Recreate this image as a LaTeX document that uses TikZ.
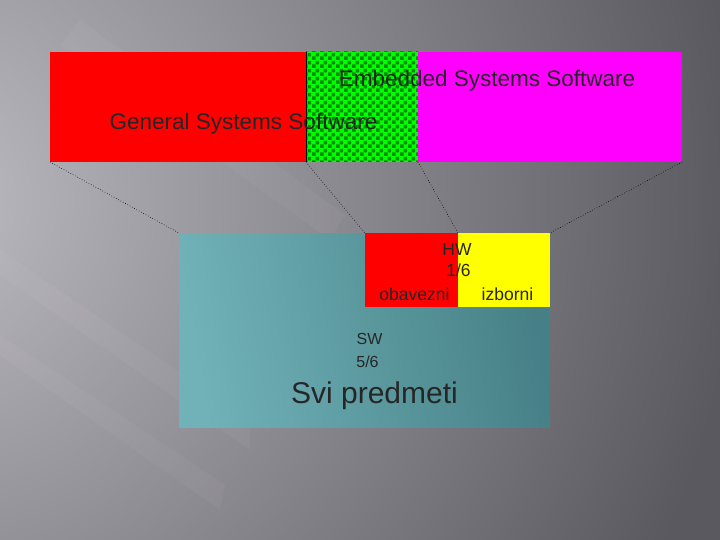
\documentclass[tikz,border=0pt]{standalone}
\usepackage{fontspec}
\setmainfont{Liberation Sans}
\usetikzlibrary{patterns.meta}
\definecolor{bgl}{RGB}{190,188,195}
\definecolor{bgd}{RGB}{90,89,95}
\definecolor{tealL}{RGB}{112,178,184}
\definecolor{tealD}{RGB}{70,128,134}
\definecolor{myred}{RGB}{255,0,0}
\definecolor{mygreen}{RGB}{0,255,0}
\definecolor{mymag}{RGB}{255,0,255}
\definecolor{myyel}{RGB}{255,255,0}
\tikzdeclarepattern{
  name=greencheck, type=uncolored,
  bounding box={(0pt,0pt) and (8pt,8pt)},
  tile size={(8pt,8pt)},
  code={
    \fill (0pt,0pt) rectangle (4pt,4pt);
    \fill (4pt,4pt) rectangle (8pt,8pt);
  }
}
\tikzset{
  blk/.style={draw=none, inner sep=0pt, outer sep=0pt, anchor=north west},
  link/.style={draw=black, dotted, line width=0.6pt},
  streak/.style={white, opacity=0.035},
  lbl/.style={font=\fontsize{22.5}{24}\selectfont, text=black!85, inner sep=0pt, anchor=base},
  sml/.style={font=\fontsize{17.5}{19}\selectfont, text=black!85, inner sep=0pt, anchor=base},
  swl/.style={font=\fontsize{16}{18}\selectfont, text=black!85, inner sep=0pt, anchor=base},
}
\begin{document}
\begin{tikzpicture}[x=1pt,y=-1pt]
\useasboundingbox (0,0) rectangle (720,540);
\begin{scope}
\clip (0,0) rectangle (720,540);
\fill[bgd] (0,0) rectangle (720,540);
\shade[inner color=bgl, outer color=bgd] (-80,200) circle (820);
\fill[streak] (0,250) -- (0,275) -- (250,450) -- (250,420) -- cycle;
\fill[streak] (0,335) -- (0,355) -- (220,510) -- (225,485) -- cycle;
\fill[streak] (80,20) -- (60,45) -- (330,240) -- (345,215) -- cycle;
\end{scope}
% top band
\node[blk, fill=myred, minimum width=256pt, minimum height=110pt] (gen) at (50,52) {};
\node[blk, fill=mygreen, minimum width=112pt, minimum height=110pt] (emb) at (306,52) {};
\fill[pattern={greencheck}, pattern color=green!55!black] (306,52) rectangle (418,162);
\node[blk, fill=mymag, minimum width=264pt, minimum height=110pt] (oth) at (418,52) {};
\draw[black, line width=0.6pt] (emb.north west) -- (emb.south west);
% bottom
\node[blk, left color=tealL, right color=tealD, shading angle=100, minimum width=371pt, minimum height=194pt] (all) at (179,233) {};
\node[blk, fill=myred, minimum width=93pt, minimum height=74pt] (hwo) at (365,233) {};
\node[blk, fill=myyel, minimum width=92pt, minimum height=74pt] (hwi) at (458,233) {};
% connectors
\draw[link] (gen.south west) -- (all.north west);
\draw[link] (gen.south east) -- (hwo.north west);
\draw[link] (emb.south east) -- (hwi.north west);
\draw[link] (oth.south east) -- (all.north east);
% texts
\node[lbl] (t1) at (487,87) {Embedded Systems Software};
\node[lbl] (t2) at (243.5,129.5) {General Systems Software};
\node[sml] (hw) at (457,255.5) {HW};
\node[sml] (hf) at (458.5,276.5) {1/6};
\node[sml] (ob) at (414.5,300) {obavezni};
\node[sml] (iz) at (507.5,300) {izborni};
\node[swl] (sw) at (369.5,344) {SW};
\node[swl] (sf) at (367.5,367) {5/6};
\node[font=\fontsize{30}{32}\selectfont, text=black!85, inner sep=0pt, anchor=base] (svi) at (374.5,403.5) {Svi predmeti};
\end{tikzpicture}
\end{document}
